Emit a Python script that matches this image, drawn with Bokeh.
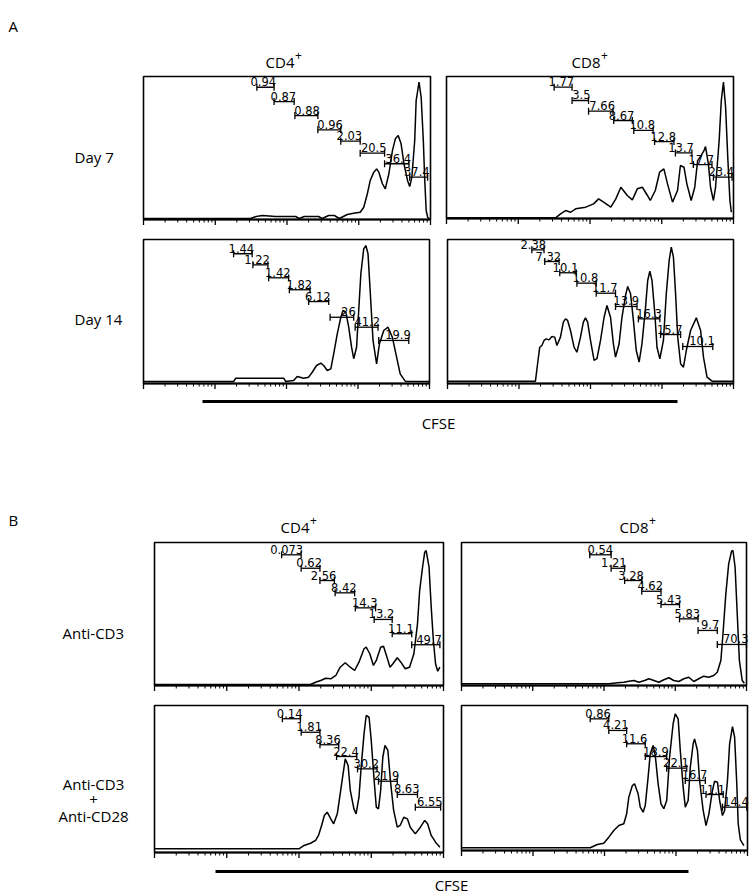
import numpy as np
from bokeh.plotting import figure
from bokeh.models import Range1d
from bokeh.core.properties import value
from bokeh.embed import file_html
from bokeh.resources import INLINE

# ---------------- data: x = log10(CFSE) in decades (0-4), y = events, % of panel height -------------
# Panel A, CD4+, Day 7
a_cd4_d7_x = [0, 1.49, 1.57, 1.66, 1.84, 2.12, 2.17, 2.24, 2.44, 2.49, 2.58, 2.66, 2.73, 2.84, 2.93, 3.02,
              3.07, 3.12, 3.16, 3.21, 3.25, 3.28, 3.33, 3.37, 3.42, 3.47, 3.51, 3.55, 3.59, 3.63, 3.68, 3.71,
              3.74, 3.78, 3.80, 3.84, 3.87, 3.90, 3.92, 3.94, 3.96, 3.99]
a_cd4_d7_y = [0.7, 0.7, 2.1, 2.8, 2.1, 2.1, 0.7, 2.1, 2.1, 0.7, 2.8, 2.8, 0.7, 3.5, 4.4, 5.1,
              8.6, 18.0, 27.3, 33.1, 35.4, 33.1, 25.0, 21.4, 32.0, 48.3, 56.4, 58.7, 52.9, 39.0, 27.3, 23.1,
              29.6, 55.2, 83.2, 96.0, 85.5, 55.2, 27.3, 6.3, 1.6, 0]
a_cd4_d7_gates = ["0.94", "0.87", "0.88", "0.96", "2.03", "20.5", "36.4", "37.4"]
a_cd4_d7_lo = [1.58, 1.82, 2.11, 2.43, 2.75, 3.02, 3.36, 3.71]
a_cd4_d7_hi = [1.82, 2.10, 2.43, 2.75, 3.02, 3.36, 3.70, 3.96]
a_cd4_d7_gy = [92.5, 82.5, 72.7, 62.7, 54.8, 46.4, 39.0, 29.6]

# Panel A, CD8+, Day 7
a_cd8_d7_x = [0, 1.52, 1.59, 1.66, 1.73, 1.80, 1.94, 2.05, 2.12, 2.19, 2.29, 2.36, 2.43, 2.52, 2.59, 2.66,
              2.73, 2.80, 2.84, 2.91, 2.97, 3.03, 3.08, 3.15, 3.22, 3.26, 3.31, 3.35, 3.41, 3.46, 3.50, 3.55,
              3.59, 3.61, 3.65, 3.68, 3.72, 3.75, 3.80, 3.83, 3.86, 3.89, 3.92, 3.95, 3.97]
a_cd8_d7_y = [0.5, 0.5, 3.3, 5.6, 4.4, 6.8, 8.0, 10.3, 13.8, 11.5, 8.0, 13.8, 22.0, 16.2, 13.1, 20.9,
              22.0, 16.2, 12.7, 19.7, 32.6, 35.0, 24.4, 11.5, 19.7, 37.3, 36.1, 24.4, 12.7, 22.0, 40.8, 44.4,
              47.9, 50.7, 38.5, 22.0, 12.7, 22.0, 54.9, 83.1, 96.0, 78.4, 43.2, 12.7, 4.4]
a_cd8_d7_gates = ["1.77", "3.5", "7.66", "8.67", "10.8", "12.8", "13.7", "17.7", "23.4"]
a_cd8_d7_lo = [1.50, 1.75, 1.98, 2.33, 2.61, 2.90, 3.19, 3.44, 3.72]
a_cd8_d7_hi = [1.75, 1.98, 2.32, 2.59, 2.88, 3.17, 3.42, 3.70, 3.98]
a_cd8_d7_gy = [92.5, 83.1, 75.6, 69.0, 62.0, 54.2, 46.2, 38.0, 29.1]

# Panel A, CD4+, Day 14
a_cd4_d14_x = [0, 1.26, 1.29, 1.96, 1.99, 2.10, 2.15, 2.24, 2.31, 2.36, 2.42, 2.48, 2.52, 2.57, 2.62, 2.66,
               2.71, 2.76, 2.79, 2.83, 2.87, 2.91, 2.94, 2.98, 3.01, 3.04, 3.08, 3.11, 3.14, 3.17, 3.21, 3.26,
               3.30, 3.36, 3.42, 3.48, 3.54, 3.59, 3.66, 4.0]
a_cd4_d14_y = [1.4, 1.4, 3.7, 3.7, 1.4, 2.1, 4.9, 3.7, 4.4, 7.8, 12.5, 14.1, 12.5, 9.0, 10.2, 20.6,
               34.5, 46.0, 50.7, 49.5, 39.1, 25.2, 17.2, 25.2, 50.7, 76.2, 93.5, 95.8, 90.1, 64.6, 29.9, 13.7,
               27.6, 36.8, 39.1, 32.2, 18.3, 6.7, 1.6, 1.4]
a_cd4_d14_gates = ["1.44", "1.22", "1.42", "1.82", "6.12", "26", "41.2", "19.9"]
a_cd4_d14_lo = [1.26, 1.53, 1.75, 2.04, 2.31, 2.61, 2.96, 3.29]
a_cd4_d14_hi = [1.52, 1.74, 2.03, 2.33, 2.59, 2.94, 3.28, 3.71]
a_cd4_d14_gy = [90.1, 82.4, 73.4, 65.1, 56.9, 46.0, 39.1, 29.9]

# Panel A, CD8+, Day 14
a_cd8_d14_x = [0, 1.23, 1.26, 1.29, 1.32, 1.35, 1.38, 1.42, 1.46, 1.50, 1.53, 1.58, 1.62, 1.65, 1.68, 1.72,
               1.77, 1.81, 1.86, 1.90, 1.93, 1.96, 2.00, 2.05, 2.09, 2.14, 2.19, 2.23, 2.28, 2.32, 2.35, 2.40,
               2.44, 2.49, 2.52, 2.56, 2.60, 2.64, 2.68, 2.72, 2.77, 2.80, 2.83, 2.86, 2.90, 2.93, 2.97, 3.02,
               3.06, 3.10, 3.13, 3.16, 3.19, 3.22, 3.26, 3.30, 3.34, 3.40, 3.48, 3.54, 3.58, 3.63, 3.70, 4.0]
a_cd8_d14_y = [1.6, 1.6, 13.7, 25.2, 26.4, 29.9, 31.0, 30.3, 32.6, 32.2, 26.4, 32.2, 42.6, 44.9, 43.8, 36.8,
               25.2, 21.7, 32.2, 42.6, 45.6, 42.6, 29.9, 16.0, 17.2, 29.9, 46.0, 54.2, 46.0, 27.6, 18.3, 27.6,
               46.0, 61.1, 67.4, 62.3, 43.8, 22.9, 14.8, 27.6, 53.0, 71.5, 78.0, 71.5, 48.4, 25.2, 17.2, 29.9,
               62.3, 85.4, 94.7, 87.7, 62.3, 32.2, 13.7, 11.3, 22.9, 36.8, 45.6, 36.8, 18.3, 4.4, 1.6, 1.6]
a_cd8_d14_gates = ["2.38", "7.32", "10.1", "10.8", "11.7", "13.9", "16.3", "15.7", "10.1"]
a_cd8_d14_lo = [1.18, 1.36, 1.57, 1.81, 2.08, 2.35, 2.67, 2.98, 3.29]
a_cd8_d14_hi = [1.35, 1.56, 1.80, 2.08, 2.35, 2.65, 2.97, 3.26, 3.71]
a_cd8_d14_gy = [92.8, 84.7, 76.9, 69.7, 62.7, 53.5, 44.9, 34.0, 25.7]

# Panel B, CD4+, Anti-CD3
b_cd4_cd3_x = [0, 2.16, 2.23, 2.30, 2.37, 2.44, 2.51, 2.57, 2.64, 2.71, 2.77, 2.83, 2.90, 2.93, 2.98, 3.03,
               3.07, 3.13, 3.17, 3.21, 3.26, 3.30, 3.36, 3.41, 3.47, 3.53, 3.59, 3.64, 3.67, 3.71, 3.74, 3.76,
               3.80, 3.83, 3.86, 3.89, 3.92, 3.95]
b_cd4_cd3_y = [0.7, 0.7, 2.3, 3.5, 5.1, 4.7, 7.0, 12.8, 15.9, 12.8, 10.5, 16.3, 25.7, 26.8, 22.2, 14.0,
               17.5, 26.8, 27.5, 21.0, 12.8, 15.2, 19.4, 16.3, 11.7, 12.8, 22.2, 43.1, 66.4, 82.7, 93.2, 94.4,
               82.7, 54.8, 31.5, 15.2, 10.0, 12.8]
b_cd4_cd3_gates = ["0.073", "0.62", "2.56", "8.42", "14.3", "13.2", "11.1", "49.7"]
b_cd4_cd3_lo = [1.76, 2.03, 2.29, 2.50, 2.78, 3.04, 3.29, 3.56]
b_cd4_cd3_hi = [2.03, 2.29, 2.49, 2.77, 3.06, 3.29, 3.56, 3.95]
b_cd4_cd3_gy = [91.4, 82.0, 73.4, 64.8, 54.3, 46.2, 36.2, 28.5]

# Panel B, CD8+, Anti-CD3
b_cd8_cd3_x = [0, 2.07, 2.19, 2.28, 2.35, 2.42, 2.49, 2.57, 2.63, 2.70, 2.77, 2.84, 2.91, 2.98, 3.05, 3.12,
               3.19, 3.26, 3.33, 3.40, 3.47, 3.54, 3.59, 3.64, 3.67, 3.71, 3.75, 3.79, 3.81, 3.84, 3.87, 3.90,
               3.94, 3.97]
b_cd8_cd3_y = [1.2, 1.2, 1.9, 2.3, 3.0, 3.5, 2.3, 3.5, 4.7, 3.5, 2.3, 4.0, 5.4, 3.5, 2.8, 4.7,
               5.8, 2.8, 4.7, 6.5, 5.8, 7.0, 9.3, 17.5, 36.2, 64.1, 85.1, 93.9, 94.4, 82.7, 50.1, 17.5,
               3.5, 1.6]
b_cd8_cd3_gates = ["0.54", "1.21", "3.28", "4.62", "5.43", "5.83", "9.7", "70.3"]
b_cd8_cd3_lo = [1.80, 2.10, 2.29, 2.53, 2.80, 3.06, 3.32, 3.59]
b_cd8_cd3_hi = [2.10, 2.29, 2.53, 2.80, 3.06, 3.32, 3.59, 4.00]
b_cd8_cd3_gy = [91.4, 82.0, 73.4, 65.9, 56.6, 46.6, 38.5, 28.7]

# Panel B, CD4+, Anti-CD3 + Anti-CD28
b_cd4_cd28_x = [0, 2.00, 2.07, 2.16, 2.23, 2.27, 2.32, 2.35, 2.39, 2.44, 2.48, 2.53, 2.57, 2.61, 2.64, 2.68,
                2.71, 2.76, 2.79, 2.83, 2.86, 2.90, 2.93, 2.97, 3.00, 3.04, 3.07, 3.10, 3.13, 3.16, 3.19, 3.23,
                3.27, 3.31, 3.36, 3.40, 3.45, 3.50, 3.54, 3.61, 3.68, 3.74, 3.78, 3.83, 3.89, 3.95]
b_cd4_cd28_y = [2.5, 2.5, 4.8, 6.3, 8.2, 11.6, 19.5, 25.2, 27.4, 22.9, 19.5, 26.3, 39.9, 53.5, 63.7, 59.2,
                42.2, 29.7, 26.3, 37.6, 58.0, 80.7, 93.2, 92.0, 76.2, 49.0, 30.8, 29.7, 42.2, 64.8, 72.8, 69.4,
                46.7, 28.6, 17.2, 18.4, 24.0, 22.9, 17.2, 12.7, 17.2, 21.8, 19.5, 11.6, 7.0, 3.6]
b_cd4_cd28_gates = ["0.14", "1.81", "8.36", "22.4", "30.2", "21.9", "8.63", "6.55"]
b_cd4_cd28_lo = [1.77, 2.03, 2.29, 2.52, 2.81, 3.10, 3.36, 3.61]
b_cd4_cd28_hi = [2.02, 2.29, 2.55, 2.80, 3.08, 3.36, 3.64, 3.96]
b_cd4_cd28_gy = [91.0, 81.8, 73.3, 65.3, 56.9, 48.5, 39.5, 30.8]

# Panel B, CD8+, Anti-CD3 + Anti-CD28
b_cd8_cd28_x = [0, 1.80, 1.90, 1.99, 2.06, 2.13, 2.20, 2.27, 2.31, 2.34, 2.39, 2.42, 2.47, 2.50, 2.54, 2.57,
                2.61, 2.64, 2.68, 2.71, 2.75, 2.79, 2.83, 2.87, 2.91, 2.96, 2.99, 3.03, 3.06, 3.10, 3.13, 3.17,
                3.20, 3.24, 3.26, 3.30, 3.33, 3.38, 3.42, 3.46, 3.51, 3.54, 3.58, 3.61, 3.65, 3.68, 3.72, 3.75,
                3.79, 3.82, 3.85, 3.87, 3.90, 3.95]
b_cd8_cd28_y = [1.9, 1.9, 4.1, 5.0, 9.2, 13.8, 17.2, 18.4, 25.3, 36.8, 44.8, 46.0, 39.1, 29.9, 26.4, 31.0,
                50.6, 66.7, 72.4, 65.5, 46.0, 32.2, 28.8, 34.5, 64.3, 87.4, 94.3, 90.8, 69.0, 43.7, 29.9, 34.5,
                57.4, 73.6, 77.0, 69.0, 48.3, 27.6, 17.2, 25.3, 41.4, 47.8, 47.1, 34.5, 24.1, 27.6, 48.3, 73.6,
                85.5, 78.1, 46.0, 18.4, 7.4, 3.4]
b_cd8_cd28_gates = ["0.86", "4.21", "11.6", "18.9", "22.1", "16.7", "11.1", "14.4"]
b_cd8_cd28_lo = [1.80, 2.06, 2.31, 2.57, 2.87, 3.13, 3.42, 3.65]
b_cd8_cd28_hi = [2.06, 2.31, 2.57, 2.87, 3.15, 3.41, 3.66, 3.99]
b_cd8_cd28_gy = [90.8, 82.8, 73.6, 64.8, 56.8, 48.3, 38.6, 29.9]

column_titles = ["CD4", "CD8"]
row_titles_a = ["Day 7", "Day 14"]
row_titles_b = ["Anti-CD3", "Anti-CD3", "+", "Anti-CD28"]
axis_title = "CFSE"
panel_letters = ["A", "B"]

# ---------------- layout (page geometry, pixels from the top-left corner) ----------------
W, H = 750, 894
X0, X1, Y0, Y1 = 0.0, 750.0, 0.0, 894.0

p = figure(width=W, height=H, x_range=Range1d(X0, X1), y_range=Range1d(Y1, Y0),
           output_backend="svg", toolbar_location=None,
           x_axis_location=None, y_axis_location=None,
           min_border=0, outline_line_color=None,
           background_fill_color="white", border_fill_color="white")
p.xgrid.visible = False
p.ygrid.visible = False


def fx(X):
    return (X - X0) / (X1 - X0) * W


def fyb(Y):
    return (Y1 - Y) / (Y1 - Y0) * H


LABEL_FONT = value("Open Sans")
GATE_FONT = value("DejaVu Sans")

major_pos = [0, 1, 2, 3, 4]
minor_pos = [d + np.log10(k) for d in range(4) for k in range(2, 10)]


def panel(key, box, xs, ys, g_lab, g_lo, g_hi, g_y):
    L, R, T, B = box
    sx = 4.0 / (fx(R) - fx(L))
    xs0 = -fx(L) * sx
    p.extra_x_ranges[key] = Range1d(xs0, xs0 + W * sx)
    sy = 100.0 / (fyb(T) - fyb(B))
    ys0 = -fyb(B) * sy
    p.extra_y_ranges[key] = Range1d(ys0, ys0 + H * sy)
    kw = dict(x_range_name=key, y_range_name=key)
    p.quad(left=[0], right=[4], bottom=[0], top=[100], fill_color=None,
           line_color="black", line_width=1.6, **kw)
    p.segment(x0=[0], y0=[0], x1=[4], y1=[0], line_color="black", line_width=2.2, **kw)
    p.segment(x0=major_pos, x1=major_pos, y0=[0] * len(major_pos), y1=[-5.5 * sy] * len(major_pos),
              line_color="black", line_width=1.3, **kw)
    p.segment(x0=minor_pos, x1=minor_pos, y0=[0] * len(minor_pos), y1=[-3.0 * sy] * len(minor_pos),
              line_color="black", line_width=1.0, **kw)
    p.line(xs, ys, line_color="black", line_width=1.5, **kw)
    p.segment(x0=g_lo, x1=g_hi, y0=g_y, y1=g_y, line_color="black", line_width=1.3, **kw)
    p.scatter(x=list(g_lo) + list(g_hi), y=list(g_y) * 2, marker="dash", angle=np.pi / 2, size=7,
              line_color="black", line_width=1.3, **kw)
    p.text(x=g_hi, y=g_y, text=g_lab, text_align="right", text_baseline="bottom",
           x_offset=2, y_offset=-1, text_font=GATE_FONT, text_font_size="11.5px",
           text_color="black", **kw)


panel("p1", (143, 430, 76, 219), a_cd4_d7_x, a_cd4_d7_y, a_cd4_d7_gates, a_cd4_d7_lo, a_cd4_d7_hi, a_cd4_d7_gy)
panel("p2", (446, 733, 76, 218), a_cd8_d7_x, a_cd8_d7_y, a_cd8_d7_gates, a_cd8_d7_lo, a_cd8_d7_hi, a_cd8_d7_gy)
panel("p3", (143, 429, 239, 383), a_cd4_d14_x, a_cd4_d14_y, a_cd4_d14_gates, a_cd4_d14_lo, a_cd4_d14_hi, a_cd4_d14_gy)
panel("p4", (447, 733, 239, 383), a_cd8_d14_x, a_cd8_d14_y, a_cd8_d14_gates, a_cd8_d14_lo, a_cd8_d14_hi, a_cd8_d14_gy)
panel("p5", (154, 443, 542, 685), b_cd4_cd3_x, b_cd4_cd3_y, b_cd4_cd3_gates, b_cd4_cd3_lo, b_cd4_cd3_hi, b_cd4_cd3_gy)
panel("p6", (461, 746, 542, 685), b_cd8_cd3_x, b_cd8_cd3_y, b_cd8_cd3_gates, b_cd8_cd3_lo, b_cd8_cd3_hi, b_cd8_cd3_gy)
panel("p7", (154, 443, 705, 852), b_cd4_cd28_x, b_cd4_cd28_y, b_cd4_cd28_gates, b_cd4_cd28_lo, b_cd4_cd28_hi, b_cd4_cd28_gy)
panel("p8", (461, 747, 705, 850), b_cd8_cd28_x, b_cd8_cd28_y, b_cd8_cd28_gates, b_cd8_cd28_lo, b_cd8_cd28_hi, b_cd8_cd28_gy)

txt = dict(text_font=LABEL_FONT, text_font_size="15px", text_color="black", text_baseline="alphabetic")

# panel letters
p.text(x=[8, 8], y=[25, 519], text=panel_letters, text_align="left", **txt)

# column headers with superscript +
hdr_cx = [283, 589, 298, 637]
hdr_by = [61, 61, 526, 526]
hdr_tx = [column_titles[0], column_titles[1], column_titles[0], column_titles[1]]
p.text(x=[c + 11 for c in hdr_cx], y=hdr_by, text=hdr_tx, text_align="right", **txt)
p.text(x=[c + 11.5 for c in hdr_cx], y=[b - 6 for b in hdr_by], text=["+"] * 4, text_align="left",
       text_font=LABEL_FONT, text_font_size="12px", text_color="black", text_baseline="alphabetic")

# row labels
p.text(x=[74, 74], y=[156, 318], text=row_titles_a, text_align="left", **txt)
p.text(x=[62], y=[632], text=[row_titles_b[0]], text_align="left", **txt)
p.text(x=[93, 93, 93], y=[783, 799, 815], text=row_titles_b[1:], text_align="center", **txt)

# CFSE bars and titles
p.segment(x0=[202, 215], y0=[401, 871], x1=[677, 688], y1=[401, 871], line_color="black", line_width=3)
p.text(x=[438, 451], y=[422, 884], text=[axis_title, axis_title], text_align="center", **txt)

open("out.html", "w").write(file_html(p, INLINE))
